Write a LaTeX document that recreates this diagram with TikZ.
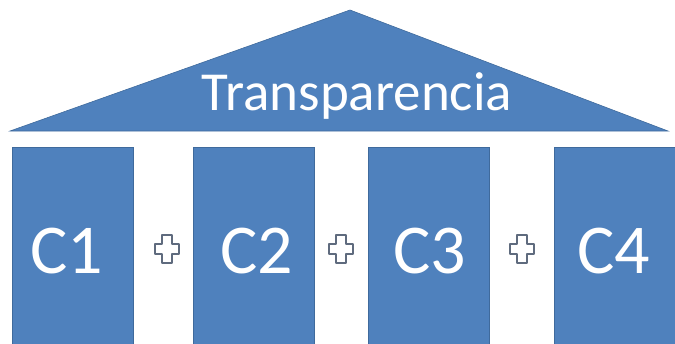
\documentclass[tikz,border=0pt]{standalone}
\usepackage{fontspec}
\setmainfont{Carlito}
\definecolor{officeblue}{HTML}{4F81BD}
\definecolor{edgeblue}{HTML}{3F6A9C}
\definecolor{plusgray}{HTML}{5F6B7E}
\begin{document}
\begin{tikzpicture}[x=1pt,y=-1pt,
  pillar/.style={fill=officeblue,draw=edgeblue,line width=0.6pt},
  pilltext/.style={text=white,font=\fontsize{70}{70}\selectfont,anchor=base},
  plussign/.style={fill=white,draw=plusgray,line width=1.5pt,line join=round}]
\useasboundingbox (0,0) rectangle (675,343);
% roof
\coordinate (apex) at (350,10);
\coordinate (bl) at (10,131);
\coordinate (br) at (668,131);
\fill[officeblue,draw=edgeblue,line width=0.6pt] (apex) -- (br) -- (bl) -- cycle;
\node[text=white,font=\fontsize{55}{55}\selectfont,anchor=base] (roof) at (357,110) {Transparencia};
% pillars
\node[pillar,minimum width=121pt,minimum height=200pt,inner sep=0pt,anchor=north west] (p1) at (12,147) {};
\node[pillar,minimum width=121pt,minimum height=200pt,inner sep=0pt,anchor=north west] (p2) at (193,147) {};
\node[pillar,minimum width=121pt,minimum height=200pt,inner sep=0pt,anchor=north west] (p3) at (368,147) {};
\node[pillar,minimum width=124pt,minimum height=200pt,inner sep=0pt,anchor=north west] (p4) at (554,147) {};
\node[pilltext] (c1) at (67,273) {C1};
\node[pilltext] (c2) at (257,273) {C2};
\node[pilltext] (c3) at (430,273) {C3};
\node[pilltext] (c4) at (614,273) {C4};
% plus signs
\foreach \cx/\nm in {167/pa,341/pb,522/pc}{
  \coordinate (\nm) at (\cx,249);
  \draw[plussign] (\nm) ++(-5,-14) -- ++(10,0) -- ++(0,9) -- ++(7,0) -- ++(0,10) -- ++(-7,0)
     -- ++(0,9) -- ++(-10,0) -- ++(0,-9) -- ++(-7,0) -- ++(0,-10) -- ++(7,0) -- cycle;
}
\end{tikzpicture}
\end{document}
